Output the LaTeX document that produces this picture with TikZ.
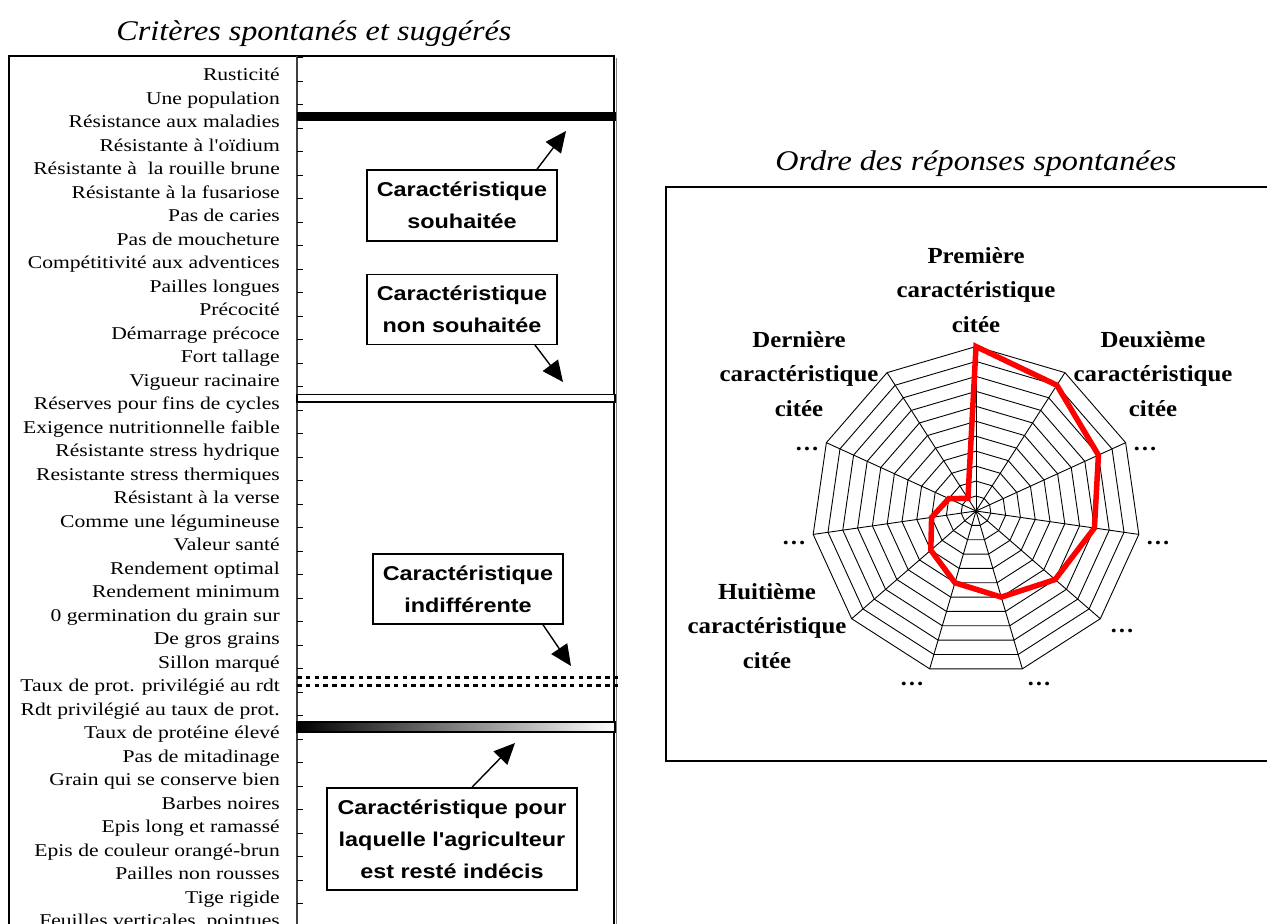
\documentclass[tikz,border=0pt]{standalone}
\usepackage{fontspec}
\setmainfont{Liberation Serif}
\newfontfamily\labfont[FakeStretch=1.2]{Liberation Serif}
\newfontfamily\radfont[FakeStretch=1.08]{Liberation Serif}
\newfontfamily\boxfont[FakeStretch=1.17]{Liberation Sans}
\newfontfamily\titfont[FakeStretch=1.13]{Liberation Serif}
\usetikzlibrary{arrows.meta}
\begin{document}
\begin{tikzpicture}[x=1pt,y=-1pt,
  crit/.style={anchor=base east, inner sep=0pt, font=\labfont\fontsize{18}{20}\selectfont},
  callout/.style={draw, line width=1.5pt, align=center, inner sep=0pt, fill=white,
    font=\boxfont\bfseries\fontsize{20}{32}\selectfont, minimum width=190pt},
  pointer/.style={line width=1.4pt, -{Triangle[length=21pt,width=19pt]}},
  radlab/.style={align=center, inner sep=0pt, font=\radfont\bfseries\fontsize{23}{34.5}\selectfont},
  dots/.style={anchor=base, inner sep=0pt, font=\radfont\bfseries\fontsize{22.5}{24}\selectfont},
  ttl/.style={anchor=base, inner sep=0pt, font=\titfont\itshape\fontsize{28.5}{30}\selectfont},
  grid/.style={line width=0.9pt, black},
  redline/.style={line width=5.5pt, red},
]
\useasboundingbox (0,0) rectangle (1267,924);
\fill[white] (0,0) rectangle (1267,924);

% titles
\node[ttl] (t1) at (314,40) {Critères spontanés et suggérés};
\node[ttl] (t2) at (976,170) {Ordre des réponses spontanées};

% ---------------- left panel ----------------
\draw[line width=1.5pt] (9,940) -- (9,56) -- (614,56) -- (614,940);
\draw[gray, line width=1pt] (616,58) -- (616,940);
\draw[line width=1.3pt, black!75] (297,56) -- (297,940);
\foreach \k in {0,...,37} \draw[line width=1pt] (297,{57.5+23.5*\k}) -- (303,{57.5+23.5*\k});

\foreach \t [count=\i] in {Rusticité, Une population, Résistance aux maladies,
  Résistante à l'oïdium, Résistante à\ \ la rouille brune, Résistante à la fusariose,
  Pas de caries, Pas de moucheture, Compétitivité aux adventices, Pailles longues,
  Précocité, Démarrage précoce, Fort tallage, Vigueur racinaire,
  Réserves pour fins de cycles, Exigence nutritionnelle faible,
  Résistante stress hydrique, Resistante stress thermiques, Résistant à la verse,
  Comme une légumineuse, Valeur santé, Rendement optimal, Rendement minimum,
  0 germination du grain sur, De gros grains, Sillon marqué,
  Taux de prot. privilégié au rdt, Rdt privilégié au taux de prot.,
  Taux de protéine élevé, Pas de mitadinage, Grain qui se conserve bien,
  Barbes noires, Epis long et ramassé, Epis de couleur orangé-brun,
  Pailles non rousses, Tige rigide, {Feuilles verticales, pointues}}
  \node[crit] (l\i) at (280,{80.7+23.5*(\i-1)}) {\t};

% bars
\fill[black] (297,111.7) rectangle (616,120.7);
\draw[line width=1.5pt, fill=white] (297,394.5) rectangle (615,402);
\draw[line width=3pt, dash pattern=on 4.5pt off 4.3pt] (297,677.5) -- (619,677.5);
\draw[line width=3pt, dash pattern=on 4.5pt off 4.3pt] (297,685.5) -- (619,685.5);
\shade[left color=black, right color=white] (297,722) rectangle (615,732);
\draw[line width=1.5pt] (297,722) rectangle (615,732);

% callouts
\node[callout, minimum height=71pt] (b1) at (462,205.5) {Caractéristique\\souhaitée};
\node[callout, minimum height=70pt] (b2) at (462,309.3) {Caractéristique\\non souhaitée};
\node[callout, minimum height=70pt] (b3) at (468,589) {Caractéristique\\indifférente};
\node[callout, minimum height=102pt, minimum width=250pt] (b4) at (452,839)
  {Caractéristique pour\\laquelle l'agriculteur\\est resté indécis};

\coordinate (a1) at (566,131);
\coordinate (a2) at (563,382);
\coordinate (a3) at (571,666);
\coordinate (a4) at (515,743);
\draw[pointer] ([xshift=75pt]b1.north) -- (a1);
\draw[pointer] ([xshift=73pt]b2.south) -- (a2);
\draw[pointer] ([xshift=75pt]b3.south) -- (a3);
\draw[pointer] ([xshift=20pt]b4.north) -- (a4);

% ---------------- right panel ----------------
\draw[line width=1.3pt] (1275,187) -- (666,187) -- (666,761) -- (1275,761);

\def\cx{976}
\def\cy{511}
\def\R{164.5}
\coordinate (rc) at (\cx,\cy);
\foreach \j in {1,...,11}{
  \draw[grid] ({\cx},{\cy-\j/11*\R})
    \foreach \k in {1,...,10}{ -- ({\cx+\j/11*\R*sin(\k*360/11)},{\cy-\j/11*\R*cos(\k*360/11)}) } -- cycle;
}
\foreach \k in {0,...,10}
  \draw[grid] (rc) -- ({\cx+\R*sin(\k*360/11)},{\cy-\R*cos(\k*360/11)});
\draw[redline] ({\cx},{\cy-\R})
  \foreach \k in {1,...,10}{ -- ({\cx+(11-\k)/11*\R*sin(\k*360/11)},{\cy-(11-\k)/11*\R*cos(\k*360/11)}) } -- cycle;

\node[radlab] (r1) at (976,290) {Première\\caractéristique\\citée};
\node[radlab] (r2) at (1153,374) {Deuxième\\caractéristique\\citée};
\node[radlab] (r11) at (799,374) {Dernière\\caractéristique\\citée};
\node[radlab] (r8) at (767,626) {Huitième\\caractéristique\\citée};
\node[dots] (d3) at (1145,450) {…};
\node[dots] (d4) at (1158,544) {…};
\node[dots] (d5) at (1122,632) {…};
\node[dots] (d6) at (1039,685) {…};
\node[dots] (d7) at (912,685) {…};
\node[dots] (d9) at (794,544) {…};
\node[dots] (d10) at (807,450) {…};
\end{tikzpicture}
\end{document}
